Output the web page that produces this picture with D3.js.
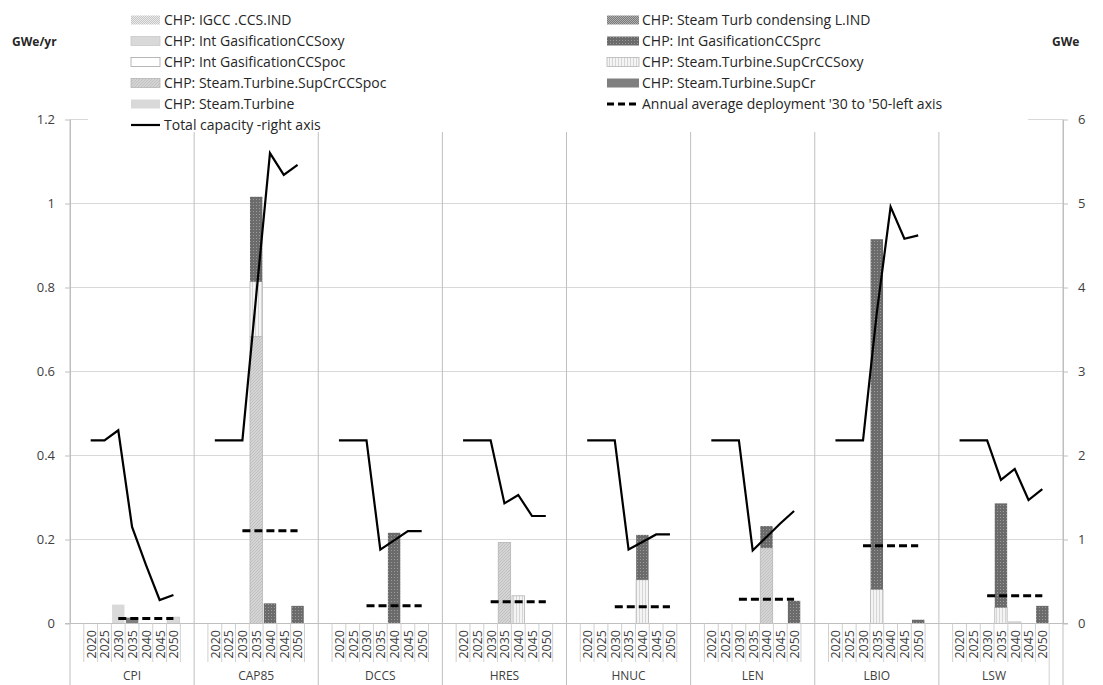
<!DOCTYPE html>
<html><head><meta charset="utf-8">
<script src="https://cdn.jsdelivr.net/npm/d3@7"></script>
<style>body{margin:0;background:#fff} svg{display:block} text{font-family:"Open Sans",sans-serif}</style>
</head><body><svg id="c" width="1103" height="685"></svg>
<script>
const groups = ["CPI","CAP85","DCCS","HRES","HNUC","LEN","LBIO","LSW"];
const years = ["2020","2025","2030","2035","2040","2045","2050"];
const leftTicks = [0,0.2,0.4,0.6,0.8,1,1.2];
const rightTicks = [0,1,2,3,4,5,6];

// stacked series (GWe/yr), one row per group, columns 2020..2050
const steamTurbine = [[0,0,0.045,0,0,0,0],[0,0,0,0,0,0,0],[0,0,0,0,0,0,0],[0,0,0,0,0,0,0],[0,0,0,0,0,0,0],[0,0,0,0,0,0,0],[0,0,0,0,0,0,0],[0,0,0,0,0,0,0]];
const supCr = [[0,0,0,0.014,0,0,0],[0,0,0,0,0,0,0],[0,0,0,0,0,0,0],[0,0,0,0,0,0,0],[0,0,0,0,0,0,0],[0,0,0,0,0,0,0],[0,0,0,0,0,0,0],[0,0,0,0,0,0,0]];
const supCrCCSpoc = [[0,0,0,0,0,0,0],[0,0,0,0.683,0,0,0],[0,0,0,0,0,0,0],[0,0,0,0.193,0,0,0],[0,0,0,0,0,0,0],[0,0,0,0,0.18,0,0],[0,0,0,0,0,0,0],[0,0,0,0,0,0,0]];
const supCrCCSoxy = [[0,0,0,0,0,0,0],[0,0,0,0.131,0,0,0],[0,0,0,0,0,0,0],[0,0,0,0,0.066,0,0],[0,0,0,0,0.104,0,0],[0,0,0,0,0,0,0],[0,0,0,0.081,0,0,0],[0,0,0,0.038,0,0,0]];
const intGasCCSpoc = [[0,0,0,0,0,0,0],[0,0,0,0,0,0,0],[0,0,0,0,0,0,0],[0,0,0,0,0,0,0],[0,0,0,0,0,0,0],[0,0,0,0,0,0,0],[0,0,0,0,0,0,0],[0,0,0,0,0,0,0]];
const intGasCCSprc = [[0,0,0,0,0,0,0],[0,0,0,0.202,0.048,0,0.042],[0,0,0,0,0.216,0,0],[0,0,0,0,0,0,0],[0,0,0,0,0.107,0,0],[0,0,0,0,0.052,0,0.054],[0,0,0,0.834,0,0,0.009],[0,0,0,0.248,0,0,0.042]];
const intGasCCSoxy = [[0,0,0,0,0,0,0.015],[0,0,0,0,0,0,0],[0,0,0,0,0,0,0],[0,0,0,0,0,0,0],[0,0,0,0,0,0,0],[0,0,0,0,0,0,0],[0,0,0,0,0,0,0],[0,0,0,0,0.004,0,0]];
const steamTurbCond = [[0,0,0,0,0,0,0],[0,0,0,0,0,0,0],[0,0,0,0,0,0,0],[0,0,0,0,0,0,0],[0,0,0,0,0,0,0],[0,0,0,0,0,0,0],[0,0,0,0,0,0,0],[0,0,0,0,0,0,0]];
const igccCCSind = [[0,0,0,0,0,0,0],[0,0,0,0,0,0,0],[0,0,0,0,0,0,0],[0,0,0,0,0,0,0],[0,0,0,0,0,0,0],[0,0,0,0,0,0,0],[0,0,0,0,0,0,0],[0,0,0,0,0,0,0]];

// annual average deployment '30 to '50 (left axis)
const avgDeploy = [
 [null,null,0.012,0.012,0.012,0.012,0.012],
 [null,null,0.221,0.221,0.221,0.221,0.221],
 [null,null,0.042,0.042,0.042,0.042,0.042],
 [null,null,0.052,0.052,0.052,0.052,0.052],
 [null,null,0.040,0.040,0.040,0.040,0.040],
 [null,null,0.058,0.058,0.058,0.058,0.058],
 [null,null,0.185,0.185,0.185,0.185,0.185],
 [null,null,0.066,0.066,0.066,0.066,0.066]];
// total capacity (right axis, GWe)
const totalCap = [
 [2.18,2.18,2.30,1.15,0.70,0.28,0.34],
 [2.18,2.18,2.18,3.90,5.60,5.34,5.46],
 [2.18,2.18,2.18,0.88,0.99,1.10,1.10],
 [2.18,2.18,2.18,1.43,1.53,1.28,1.28],
 [2.18,2.18,2.18,0.88,0.97,1.06,1.06],
 [2.18,2.18,2.18,0.87,1.03,1.19,1.34],
 [2.18,2.18,2.18,3.70,4.96,4.58,4.62],
 [2.18,2.18,2.18,1.71,1.84,1.47,1.60]];

const seriesDefs = [
 {key:"steamTurbine", data:steamTurbine, name:"CHP: Steam.Turbine", fill:"#d9d9d9", stroke:"none"},
 {key:"supCr", data:supCr, name:"CHP: Steam.Turbine.SupCr", fill:"#7f7f7f", stroke:"none"},
 {key:"supCrCCSpoc", data:supCrCCSpoc, name:"CHP: Steam.Turbine.SupCrCCSpoc", fill:"url(#pHatch)", stroke:"#b5b5b5"},
 {key:"supCrCCSoxy", data:supCrCCSoxy, name:"CHP: Steam.Turbine.SupCrCCSoxy", fill:"url(#pVert)", stroke:"#b5b5b5"},
 {key:"intGasCCSpoc", data:intGasCCSpoc, name:"CHP: Int GasificationCCSpoc", fill:"#ffffff", stroke:"#a6a6a6"},
 {key:"intGasCCSprc", data:intGasCCSprc, name:"CHP: Int GasificationCCSprc", fill:"url(#pDots)", stroke:"none"},
 {key:"intGasCCSoxy", data:intGasCCSoxy, name:"CHP: Int GasificationCCSoxy", fill:"#d9d9d9", stroke:"#c8c8c8"},
 {key:"steamTurbCond", data:steamTurbCond, name:"CHP: Steam Turb condensing L.IND", fill:"url(#pCheckDark)", stroke:"none"},
 {key:"igccCCSind", data:igccCCSind, name:"CHP: IGCC .CCS.IND", fill:"url(#pCheckLight)", stroke:"none"}
];
const byKey = Object.fromEntries(seriesDefs.map(s=>[s.key,s]));

const svg = d3.select("#c");
const defs = svg.append("defs");
function pat(id,w,h,bg,draw){const p=defs.append("pattern").attr("id",id).attr("patternUnits","userSpaceOnUse").attr("width",w).attr("height",h);p.append("rect").attr("width",w).attr("height",h).attr("fill",bg);draw(p);}
pat("pHatch",3,3,"#d4d4d4",p=>{p.append("path").attr("d","M0,3L3,0").attr("stroke","#bdbdbd").attr("stroke-width",0.8);});
pat("pVert",3,3,"#f4f4f4",p=>{p.append("rect").attr("x",0).attr("width",1).attr("height",3).attr("fill","#d6d6d6");});
pat("pDots",3,3,"#6b6b6b",p=>{p.append("rect").attr("x",1).attr("y",1).attr("width",1).attr("height",1).attr("fill","#9a9a9a");});
pat("pCheckDark",2,2,"#7a7a7a",p=>{p.append("rect").attr("width",1).attr("height",1).attr("fill","#b0b0b0");p.append("rect").attr("x",1).attr("y",1).attr("width",1).attr("height",1).attr("fill","#b0b0b0");});
pat("pCheckLight",2,2,"#c4c4c4",p=>{p.append("rect").attr("width",1).attr("height",1).attr("fill","#ececec");p.append("rect").attr("x",1).attr("y",1).attr("width",1).attr("height",1).attr("fill","#ececec");});

const plotL=70, plotR=1063, y0=623.5, yTop=119.5;
const slotKeys=[]; groups.forEach(g=>{for(let s=0;s<9;s++) slotKeys.push(g+"|"+s);});
const x = d3.scaleBand().domain(slotKeys).range([plotL,plotR]);
const step = x.step();
const yL = d3.scaleLinear().domain([0,1.2]).range([y0,yTop]);
const yR = d3.scaleLinear().domain([0,6]).range([y0,yTop]);
const slotX = (gi,yi)=>x(groups[gi]+"|"+(yi+1));

// gridlines
svg.append("g").selectAll("line").data(leftTicks.filter(t=>t>0)).join("line")
 .attr("x1",plotL).attr("x2",plotR).attr("y1",d=>yL(d)).attr("y2",d=>yL(d))
 .attr("stroke","#d9d9d9").attr("stroke-width",1);

// bars
const rows=[];
groups.forEach((g,gi)=>years.forEach((yr,yi)=>{const r={gi,yi};seriesDefs.forEach(s=>r[s.key]=s.data[gi][yi]);rows.push(r);}));
const stacked = d3.stack().keys(seriesDefs.map(s=>s.key))(rows);
const barW = step*0.9;
const barG = svg.append("g");
stacked.forEach(layer=>{
 const s=byKey[layer.key];
 barG.append("g").selectAll("rect").data(layer.filter(d=>d[1]-d[0]>0)).join("rect")
  .attr("x",d=>slotX(d.data.gi,d.data.yi)+(step-barW)/2)
  .attr("width",barW)
  .attr("y",d=>yL(d[1]))
  .attr("height",d=>yL(d[0])-yL(d[1]))
  .attr("fill",s.fill).attr("stroke",s.stroke).attr("stroke-width",0.8);
});

// axes frame lines
const ax = svg.append("g");
ax.append("line").attr("x1",65).attr("x2",1068).attr("y1",y0).attr("y2",y0).attr("stroke","#bfbfbf");
const leftAxis = svg.append("g").attr("transform",`translate(${plotL},0)`)
 .call(d3.axisLeft(yL).tickValues(leftTicks).tickSize(5).tickSizeOuter(0).tickPadding(10).tickFormat(d=>String(d)));
const rightAxis = svg.append("g").attr("transform",`translate(${plotR},0)`)
 .call(d3.axisRight(yR).tickValues(rightTicks).tickSize(5).tickSizeOuter(0).tickPadding(10).tickFormat(d=>String(d)));
[leftAxis,rightAxis].forEach(a=>{
 a.select(".domain").attr("stroke","#bfbfbf");
 a.selectAll(".tick line").attr("stroke","#bfbfbf");
 a.selectAll(".tick text").attr("fill","#404040").style("font-size","13px").style("font-family","'Open Sans',sans-serif");
});

// category axis lines
const catG = svg.append("g");
groups.forEach((g,gi)=>{
 for(let s=1;s<=8;s++){
  const xx = x(g+"|"+s);
  const full = (gi===groups.length-1 && s===8);
  catG.append("line").attr("x1",xx).attr("x2",xx).attr("y1",y0).attr("y2",full?685:662).attr("stroke","#d0d0d0");
 }
});
const seps = groups.map(g=>x(g+"|0")).concat([plotR]);
catG.selectAll("line.sep").data(seps).join("line").attr("class","sep")
 .attr("x1",d=>d).attr("x2",d=>d).attr("y1",yTop).attr("y2",685).attr("stroke","#bfbfbf");

// year labels
groups.forEach((g,gi)=>years.forEach((yr,yi)=>{
 const cx = slotX(gi,yi)+step/2;
 svg.append("text").attr("transform",`translate(${cx+0.5},630) rotate(-90)`)
  .attr("text-anchor","end").attr("dy","0.35em").attr("fill","#404040")
  .style("font-size","12.5px").text(yr);
}));
// group labels
groups.forEach((g,gi)=>{
 const a = x(g+"|0");
 const b = gi===groups.length-1 ? x(g+"|8") : a+9*step;
 svg.append("text").attr("x",(a+b)/2).attr("y",680).attr("text-anchor","middle")
  .attr("fill","#404040").style("font-size","12px").text(g);
});

// dashed average lines
const lineDash = d3.line().defined(d=>d.v!=null).x(d=>slotX(d.gi,d.yi)+step/2).y(d=>yL(d.v));
const lineTot = d3.line().x(d=>slotX(d.gi,d.yi)+step/2).y(d=>yR(d.v));
groups.forEach((g,gi)=>{
 const pts = avgDeploy[gi].map((v,yi)=>({gi,yi,v}));
 svg.append("path").attr("d",lineDash(pts)).attr("fill","none").attr("stroke","#000").attr("stroke-width",3).attr("stroke-dasharray","8,4");
 const tp = totalCap[gi].map((v,yi)=>({gi,yi,v}));
 svg.append("path").attr("d",lineTot(tp)).attr("fill","none").attr("stroke","#000").attr("stroke-width",2.2).attr("stroke-linejoin","miter");
});

// legend background
svg.append("rect").attr("x",88).attr("y",0).attr("width",940).attr("height",132).attr("fill","#fff");

// legend
const legLeft = ["igccCCSind","intGasCCSoxy","intGasCCSpoc","supCrCCSpoc","steamTurbine"];
const legRight = ["steamTurbCond","intGasCCSprc","supCrCCSoxy","supCr"];
const rowY = i=>20+21*i;
const lg = svg.append("g");
function legText(xx,yy,t){lg.append("text").attr("x",xx).attr("y",yy+5).attr("fill","#262626").style("font-size","14px").text(t);}
legLeft.forEach((k,i)=>{const s=byKey[k];
 lg.append("rect").attr("x",131).attr("y",rowY(i)-4.5).attr("width",29).attr("height",9).attr("fill",s.fill).attr("stroke",s.stroke==="none"?"none":s.stroke).attr("stroke-width",0.8);
 legText(164,rowY(i),s.name);});
legRight.forEach((k,i)=>{const s=byKey[k];
 lg.append("rect").attr("x",607).attr("y",rowY(i)-4.5).attr("width",32).attr("height",9).attr("fill",s.fill).attr("stroke",s.stroke==="none"?"none":s.stroke).attr("stroke-width",0.8);
 legText(642,rowY(i),s.name);});
lg.append("line").attr("x1",607).attr("x2",639).attr("y1",rowY(4)).attr("y2",rowY(4)).attr("stroke","#000").attr("stroke-width",3).attr("stroke-dasharray","7,4");
legText(642,rowY(4),"Annual average deployment '30 to '50-left axis");
lg.append("line").attr("x1",131).attr("x2",160).attr("y1",rowY(5)).attr("y2",rowY(5)).attr("stroke","#000").attr("stroke-width",2.2);
legText(164,rowY(5),"Total capacity -right axis");

// axis titles
svg.append("text").attr("x",12).attr("y",46).style("font-size","12px").style("font-weight","bold").attr("fill","#262626").text("GWe/yr");
svg.append("text").attr("x",1052).attr("y",46).style("font-size","12px").style("font-weight","bold").attr("fill","#262626").text("GWe");
</script></body></html>
